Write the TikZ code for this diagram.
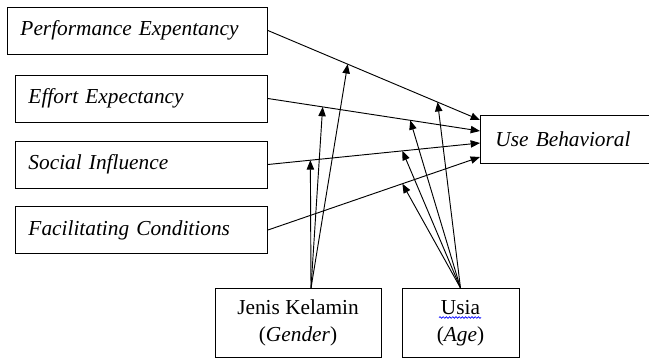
\documentclass[tikz,border=0pt]{standalone}
\usepackage{fontspec}
\setmainfont{Liberation Serif}
\usetikzlibrary{arrows.meta,decorations.pathmorphing}

\begin{document}
\begin{tikzpicture}[x=0.75pt,y=-0.75pt,
  >={Triangle[length=7pt,width=5.5pt]},
  font=\fontsize{16}{20.25}\selectfont,
  box/.style={draw,line width=0.7pt,inner xsep=9.75pt,minimum height=35.25pt,align=left,anchor=west},
  mbox/.style={draw,line width=0.7pt,minimum height=51.75pt,align=center,anchor=north},
  link/.style={->,line width=0.7pt}]
 \useasboundingbox (0,0) rectangle (649,358);
 % independent variables
 \node[box,text width=175.5pt] (pe) at (7,30.5) {\textit{Performance Expentancy}};
 \node[box,text width=169.5pt] (ee) at (15,98.5) {\textit{Effort Expectancy}};
 \node[box,text width=169.5pt] (si) at (15,164.5) {\textit{Social Influence}};
 \node[box,text width=169.5pt] (fc) at (15,230) {\textit{Facilitating Conditions}};
 % dependent variable
 \node[box,inner xsep=11.25pt,minimum height=36pt,text width=104.25pt] (ub) at (480,139) {\textit{Use Behavioral}};
 % moderators
 \node[mbox,minimum width=124.5pt] (gender) at (298,288) {Jenis Kelamin\\(\textit{Gender})};
 \node[mbox,minimum width=87.75pt] (age) at (460.5,288) {Usia\\(\textit{Age})};
 \draw[blue,line width=0.5pt,decorate,decoration={snake,amplitude=0.6pt,segment length=2.4pt}] (439,317.5) -- (481,317.5);
 \coordinate (gtop) at ([xshift=9.75pt]gender.north);
 % main paths
 \draw[link] (pe.east) -- coordinate[pos=0.376] (pe1) coordinate[pos=0.80] (pe2) ([yshift=14.25pt]ub.west);
 \draw[link] (ee.east) -- coordinate[pos=0.258] (ee1) coordinate[pos=0.671] (ee2) ([yshift=6pt]ub.west);
 \draw[link] (si.east) -- coordinate[pos=0.20] (si1) coordinate[pos=0.634] (si2) ([yshift=-3pt]ub.west);
 \draw[link] (fc.east) -- coordinate[pos=0.634] (fc2) ([yshift=-13.5pt]ub.west);
 % moderating effects
 \foreach \t in {pe1,ee1,si1}
  \draw[link] (gtop) -- (\t);
 \foreach \t in {pe2,ee2,si2,fc2}
  \draw[link] (age.north) -- (\t);
\end{tikzpicture}
\end{document}
